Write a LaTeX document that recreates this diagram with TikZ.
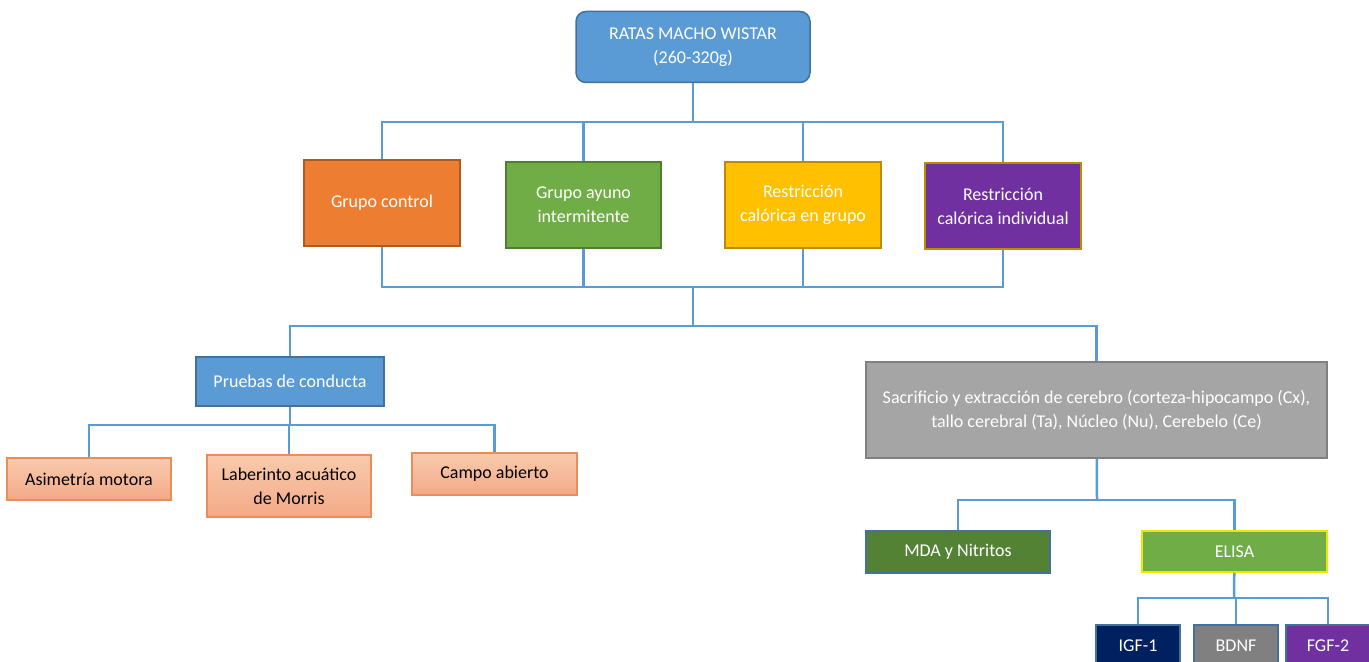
\documentclass[tikz,border=0pt]{standalone}
\usepackage{fontspec}
\setmainfont{Carlito}
\usepackage{tikz}

\definecolor{linkblue}{HTML}{5B9BD5}
\definecolor{edgeblue}{HTML}{41719C}
\definecolor{boxorange}{HTML}{ED7D31}
\definecolor{edgeorange}{HTML}{AE5A21}
\definecolor{boxgreen}{HTML}{70AD47}
\definecolor{edgegreen}{HTML}{507E32}
\definecolor{boxyellow}{HTML}{FFC000}
\definecolor{edgegold}{HTML}{BC8C00}
\definecolor{boxpurple}{HTML}{7030A0}
\definecolor{peachtop}{HTML}{F8CBAD}
\definecolor{peachbot}{HTML}{F4A987}
\definecolor{edgepeach}{HTML}{E98D5C}
\definecolor{boxgray}{HTML}{A5A5A5}
\definecolor{edgegray}{HTML}{7F7F7F}
\definecolor{darkgreen}{HTML}{548235}
\definecolor{edgeyellow}{HTML}{E8E800}
\definecolor{navy}{HTML}{002060}
\definecolor{midgray}{HTML}{808080}

\begin{document}
\begin{tikzpicture}[x=.5pt,y=-.5pt,
  box/.style={draw, line width=.75pt, text=white, align=center, inner sep=2pt,
    font=\fontsize{9}{12}\selectfont},
  peach/.style={box, draw=edgepeach, top color=peachtop, bottom color=peachbot, text=black},
  link/.style={draw=linkblue, line width=1.25pt}]
%\draw[help lines] (0,0) grid[step=50] (1369,662);
\useasboundingbox (0,0) rectangle (1369,662);
\clip (0,0) rectangle (1369,662);

\node (top) [box, fill=linkblue, draw=edgeblue, rounded corners=5pt, minimum width=117pt, minimum height=35.5pt] at (693,47) {RATAS MACHO WISTAR\\(260-320g)};

\node (g1) [box, fill=boxorange, draw=edgeorange, minimum width=78pt, minimum height=43pt] at (382,203) {Grupo control};
\node (g2) [box, fill=boxgreen, draw=edgegreen, minimum width=77.5pt, minimum height=43pt] at (583.5,205) {Grupo ayuno\\intermitente};
\node (g3) [box, fill=boxyellow, draw=edgegold, minimum width=78pt, minimum height=43pt] at (803,205) {Restricción\\calórica en grupo};
\node (g4) [box, fill=boxpurple, draw=edgegold, minimum width=78pt, minimum height=43pt] at (1003,206) {Restricción\\calórica individual};

\node (pru) [box, fill=linkblue, draw=edgeblue, minimum width=94pt, minimum height=24.5pt] at (290,381.5) {Pruebas de conducta};
\node (asim) [peach, minimum width=82pt, minimum height=21pt] at (89,479) {Asimetría motora};
\node (lab) [peach, minimum width=82pt, minimum height=31pt] at (289,486) {Laberinto acuático\\de Morris};
\node (campo) [peach, minimum width=82.5pt, minimum height=21pt] at (494.5,474) {Campo abierto};

\node (sac) [box, fill=boxgray, draw=edgegray, minimum width=230.5pt, minimum height=48pt] at (1096.5,410) {Sacrificio y extracción de cerebro (corteza-hipocampo (Cx),\\tallo cerebral (Ta), Núcleo (Nu), Cerebelo\ (Ce)};
\node (mda) [box, fill=darkgreen, draw=edgeblue, minimum width=92pt, minimum height=21pt] at (958,552) {MDA y Nitritos};
\node (elisa) [box, fill=boxgreen, draw=edgeyellow, minimum width=92.5pt, minimum height=20.5pt] at (1234.5,551.5) {ELISA};

\node (igf) [box, fill=navy, draw=edgeblue, minimum width=42pt, minimum height=21pt] at (1138,646) {IGF-1};
\node (bdnf) [box, fill=midgray, draw=edgeblue, minimum width=42pt, minimum height=21pt] at (1236,646) {BDNF};
\node (fgf) [box, fill=boxpurple, draw=edgeblue, minimum width=42pt, minimum height=21pt] at (1328,646) {FGF-2};

\coordinate (j1) at (693,122);
\coordinate (j2) at (693,287);
\coordinate (j3) at (693,326);
\coordinate (j4) at (290,425);
\coordinate (j5) at (1097,500);
\coordinate (j6) at (1234,598);

\draw [link] (top) -- (j1);
\foreach \g in {g1,g2,g3,g4}
  \draw [link] (j1) -| (\g.north);
\foreach \g in {g1,g2,g3,g4}
  \draw [link] (\g.south) |- (j2);
\draw [link] (j2) -- (j3);
\draw [link] (j3) -| (pru.north);
\draw [link] (j3) -| (sac.north);

\draw [link] (pru) -- (j4);
\foreach \p in {asim,lab,campo}
  \draw [link] (j4) -| (\p.north);

\draw [link] (sac) -- (j5);
\draw [link] (j5) -| (mda.north);
\draw [link] (j5) -| (elisa.north);

\draw [link] (elisa) -- (j6);
\foreach \e in {igf,bdnf,fgf}
  \draw [link] (j6) -| (\e.north);

\end{tikzpicture}
\end{document}
